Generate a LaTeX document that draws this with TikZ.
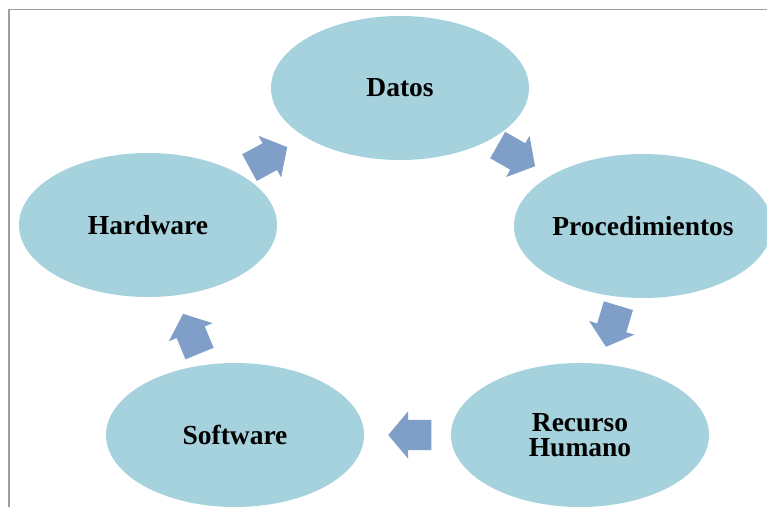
\documentclass[tikz,border=0pt]{standalone}
\usepackage{fontspec}
\setmainfont{Liberation Serif}
\usepackage{tikz}
\usetikzlibrary{shapes.arrows,shapes.geometric}
\def\ellw{258pt}
\def\ellh{144pt}
\definecolor{ellblue}{RGB}{166,210,222}
\definecolor{arrblue}{RGB}{127,159,201}

\begin{document}
\begin{tikzpicture}[x=1pt,y=1pt]
            \tikzstyle{stage}=[ellipse,fill=ellblue,minimum width=\ellw,minimum height=\ellh,inner sep=0pt,
                font=\fontsize{27.5}{25}\selectfont\bfseries,align=center]
            \tikzstyle{cycle arrow}=[single arrow,fill=arrblue,minimum height=43pt,inner xsep=0pt,inner ysep=15pt,
                single arrow head extend=8.5pt,single arrow tip angle=100,anchor=tip]

            \useasboundingbox (0,0) rectangle (767,507);
            \clip (0,0) rectangle (767,507);

            % Frame round the diagram
            \draw[draw=black!38,line width=1.5pt] (9,0) -- (9,497.5) -- (767,497.5);

            % Draw the five stages of the cycle
            \node[stage] (DATOS) at (400,419) {Datos};
            \node[stage] (PROC) at (643,281) {Procedimientos};
            \node[stage] (RH) at (580,72) {Recurso\\Humano};
            \node[stage] (SW) at (235,72) {Software};
            \node[stage] (HW) at (148,282) {Hardware};

            % Arrows between the stages (placed by their tips)
            \foreach \name / \x / \y / \a in {1/287.5/360/28.5, 2/535.3/340.6/-29.6, 3/605.9/159.9/-106.8,
                                              4/388/72/180, 5/183/193.4/112.5}
                \node[cycle arrow, rotate=\a] (A-\name) at (\x,\y) {};
        \end{tikzpicture}
\end{document}
